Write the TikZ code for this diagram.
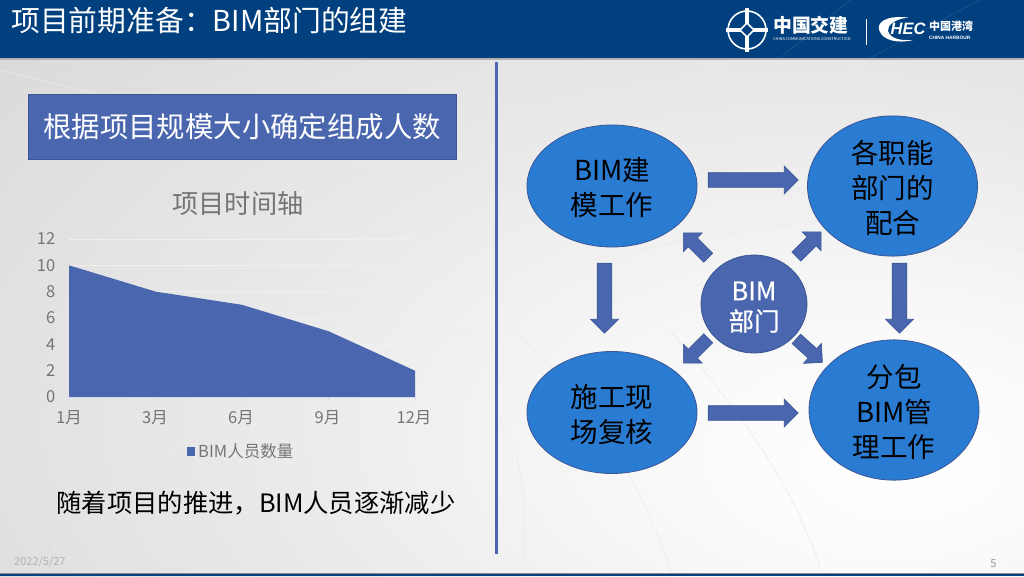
\documentclass[tikz,border=0pt]{standalone}
\usepackage{fontspec}
\setmainfont{Noto Sans CJK SC}
\newfontfamily\hecfont{Liberation Sans}
\newfontfamily\semifont[FakeBold=0.5]{Noto Sans CJK SC}
\usetikzlibrary{shapes.geometric,shapes.arrows}
\definecolor{hdr}{HTML}{01407F}
\definecolor{blk}{HTML}{4A66AE}
\definecolor{blkd}{HTML}{3A5795}
\definecolor{ell}{HTML}{2A7BD2}
\definecolor{axt}{HTML}{757575}
\newcommand{\ellstrut}{\rule{0pt}{27pt}}
\pgfdeclareradialshading{bgshade}{\pgfpoint{20bp}{-16bp}}{
  color(0bp)=(white);
  color(10bp)=(white!98!black);
  color(26bp)=(white!92!black);
  color(48bp)=(white!85!black);
  color(66bp)=(white!83!black);
  color(100bp)=(white!82!black)}
\tikzset{
  x=1pt,y=-1pt,
  txt/.style={inner sep=0pt,align=center,font=\fontsize{#1}{#1}\selectfont},
  bigell/.style={ellipse,draw=blkd,line width=.8pt,fill=ell,minimum width=170pt,minimum height=122pt,inner sep=0pt,align=center,text=black,font=\fontsize{27.5}{35}\selectfont},
  blockarrow/.style={single arrow,draw=blkd,line width=.7pt,fill=blk,inner xsep=0pt,inner ysep=7pt,single arrow head extend=6.5pt,single arrow tip angle=90,minimum height=#1,anchor=center},
  diagarrow/.style={single arrow,draw=blkd,line width=.7pt,fill=blk,inner xsep=0pt,inner ysep=6pt,single arrow head extend=7pt,single arrow tip angle=90,minimum height=#1,anchor=center},
  axlab/.style={txt=16.5,text=axt},
  grid/.style={draw=white!94!black,line width=.8pt},
  arcline/.style={draw=black!8,line width=.6pt}
}
\begin{document}
\begin{tikzpicture}
\useasboundingbox (0,0) rectangle (1024,576);
% background
\shade[shading=bgshade] (0,0) rectangle (1024,576);
\draw[arcline] (500,113) .. controls (640,95) and (720,75) .. (730,60);
\draw[arcline] (675,145) .. controls (780,110) and (830,85) .. (870,60);
\draw[arcline] (590,260) .. controls (750,225) and (900,210) .. (1024,200);
\draw[arcline] (500,112) .. controls (680,165) and (860,205) .. (1024,250);
\draw[arcline] (513,330) .. controls (570,380) and (630,450) .. (673,576);
\draw[arcline] (670,330) .. controls (720,390) and (790,470) .. (823,576);
\draw[arcline] (500,420) .. controls (520,450) and (530,500) .. (522,576);
\draw[arcline] (30,576) .. controls (150,440) and (300,360) .. (480,330);
\draw[arcline] (0,70) .. controls (200,120) and (420,170) .. (490,210);
% header
\fill[hdr] (0,0) rectangle (1024,58);
\fill[black!30] (0,58) rectangle (1024,59.5);
\fill[black!45] (0,572.5) rectangle (1024,574);
\fill[hdr] (0,574) rectangle (1024,576);
\draw[white!12!hdr,line width=.6pt] (780,58) -- (850,0);
\draw[white!12!hdr,line width=.6pt] (870,58) -- (980,0);
\node[txt=28.8,text=white,anchor=west] (title) at (11,21) {项目前期准备：BIM部门的组建};
% logo CCCC
\draw[white,line width=1.6pt] (747,30) circle (19);
\draw[white,line width=3.2pt] (747,8) -- (747,24) (747,36) -- (747,52) (726,30) -- (741,30) (753,30) -- (768,30);
\draw[white,line width=1.6pt,fill=hdr] (747,23) -- (754,30) -- (747,37) -- (740,30) -- cycle;
\node[text=white,anchor=west,inner sep=0pt,font=\fontsize{18.8}{19}\selectfont\bfseries] (cc) at (773,25) {中国交建};
\node[text=white,anchor=west,inner sep=0pt,font=\fontsize{3.9}{5}\selectfont] (ccen) at (773,39) {CHINA COMMUNICATIONS CONSTRUCTION};
\draw[white,line width=1.2pt] (866.5,19) -- (866.5,45);
\fill[white] (908,17.5) .. controls (885,15) and (876,23) .. (879.5,31) .. controls (883,40) and (897,44) .. (913,40) .. controls (899,41) and (890,38) .. (888,31) .. controls (887,25) and (895,19) .. (908,17.5) -- cycle;
\node[text=white,anchor=center,inner sep=0pt,font=\hecfont\fontsize{16.5}{17}\selectfont\bfseries\itshape] (hec) at (908,29) {HEC};
\node[text=white,anchor=west,inner sep=0pt,font=\fontsize{11}{11}\selectfont\bfseries] (hk) at (929,26.5) {中国港湾};
\node[text=white,anchor=west,inner sep=0pt,font=\hecfont\fontsize{4.8}{5}\selectfont\bfseries] (hken) at (929,38) {CHINA HARBOUR};
% divider
\draw[blk,line width=3pt] (496,62) -- (496,554);
% title box
\node[draw=blkd,line width=1pt,fill=blk,text=white,minimum width=428pt,minimum height=65pt,inner sep=0pt,font=\fontsize{28.4}{28}\selectfont] (box) at (242,126.5) {根据项目规模大小确定组成人数};
% chart
\node[txt=26.2,text=axt] (ct) at (238,204) {项目时间轴};
\foreach \v in {0,2,...,12}{
  \pgfmathsetmacro\yy{397-13.17*\v}
  \ifnum\v>0 \draw[grid] (69,\yy) -- (415,\yy);\fi
  \node[axlab,anchor=east] (yl\v) at (55.5,\yy) {\v};
}
\fill[blk] (69,265.3) -- (155.5,291.6) -- (242,304.8) -- (328.5,331.2) -- (415,370.7) -- (415,397) -- (69,397) -- cycle;
\draw[white!75!blk,line width=.8pt] (69,397) -- (415,397);
\draw[white!75!blk,line width=.6pt] (69,397) -- (69,401) (155.5,397) -- (155.5,401) (242,397) -- (242,401) (328.5,397) -- (328.5,401) (415,397) -- (415,401);
\node[axlab] (x1) at (69,418) {1月};
\node[axlab] (x3) at (155,418) {3月};
\node[axlab] (x6) at (241,418) {6月};
\node[axlab] (x9) at (327.5,418) {9月};
\node[axlab] (x12) at (414,418) {12月};
\fill[blk] (187,447) rectangle (195,456);
\node[axlab,anchor=west] (leg) at (198,451.5) {BIM人员数量};
\node[txt=25.3,text=black] (note) at (256,503) {随着项目的推进，BIM人员逐渐减少};
% right diagram
\node[bigell] (a) at (612,186) {\ellstrut BIM建\\模工作};
\node[bigell] (b) at (892.5,186) {\ellstrut 各职能\\部门的\\配合};
\node[bigell] (c) at (612,412.5) {\ellstrut 施工现\\场复核};
\node[bigell] (d) at (894,410) {\ellstrut 分包\\BIM管\\理工作};
\node[ellipse,draw=blkd,line width=.8pt,fill=blk,minimum width=106pt,minimum height=98pt,inner sep=0pt,align=center,text=white,font=\semifont\fontsize{25.5}{30.5}\selectfont] (m) at (754,304) {\rule{0pt}{25pt}BIM\\部门};
\node[blockarrow=90pt] (ab) at (749.5,180) {};
\node[blockarrow=90pt] (cd) at (749.5,413) {};
\node[blockarrow=70pt,rotate=-90] (ac) at (604.5,294.5) {};
\node[blockarrow=70pt,rotate=-90] (bd) at (899.5,294.5) {};
\node[diagarrow=35pt,rotate=135] (ma) at (698,247.5) {};
\node[diagarrow=35pt,rotate=45] (mb) at (806.5,246.5) {};
\node[diagarrow=35pt,rotate=-135] (mc) at (698,348.5) {};
\node[diagarrow=35pt,rotate=-42] (md) at (807,348.5) {};
% footer
\node[txt=11,text=black!30,anchor=west] (date) at (14,562) {2022/5/27};
\node[txt=11,text=black!40] (pg) at (993.5,564) {5};
\end{tikzpicture}
\end{document}
